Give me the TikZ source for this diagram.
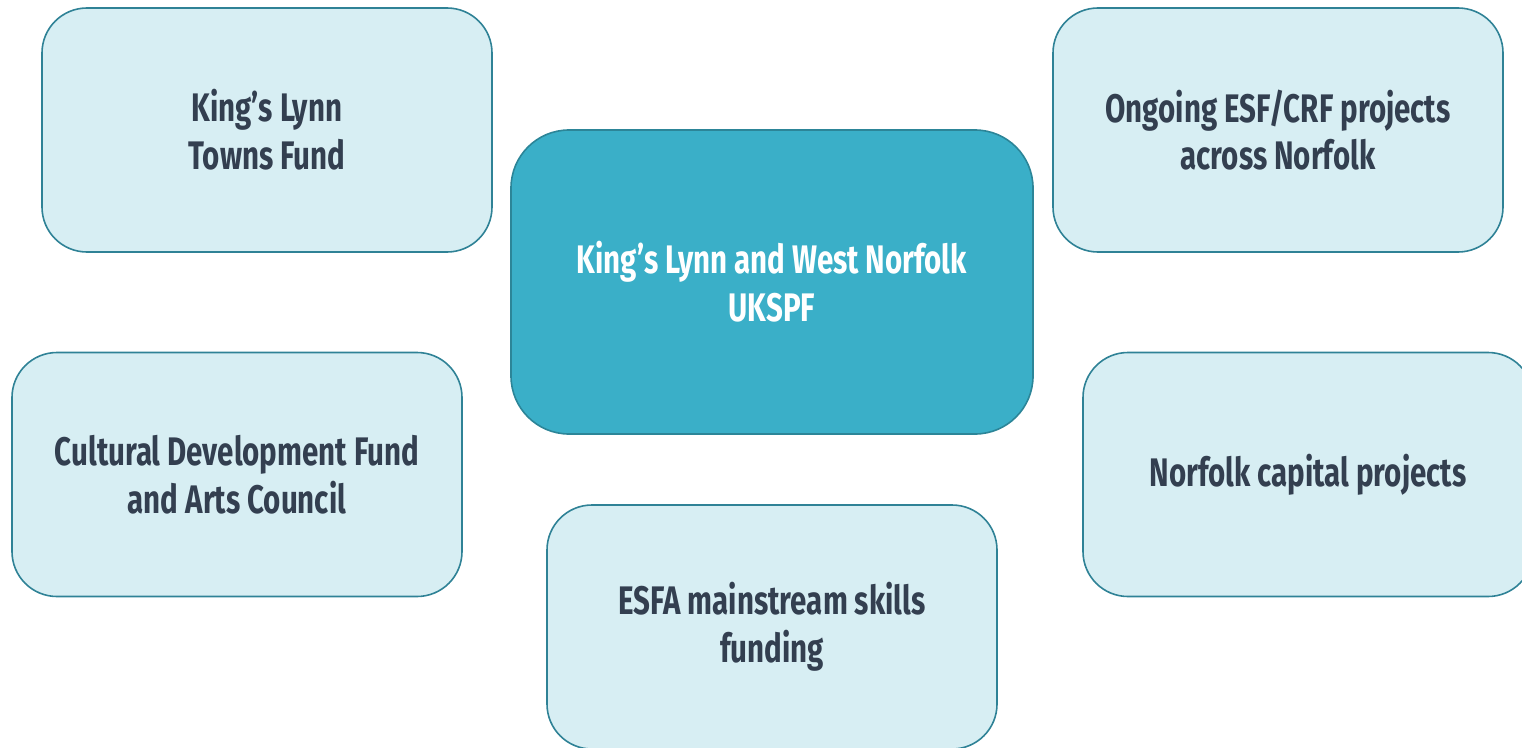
\documentclass[tikz,border=0pt]{standalone}
\usepackage{fontspec}
\newfontfamily\boxfont{Fira Sans}[FakeStretch=0.74]
\definecolor{boxfill}{HTML}{D7EEF3}
\definecolor{boxline}{HTML}{2F8296}
\definecolor{hubfill}{HTML}{3AAFC8}
\definecolor{hubline}{HTML}{2C8598}
\definecolor{boxtext}{HTML}{333F50}
\tikzset{
  fundbox/.style={draw=boxline, line width=1.6bp, fill=boxfill, rounded corners=45bp,
    minimum width=450bp, minimum height=244bp, inner sep=0pt, align=center,
    text=boxtext, font=\boxfont\bfseries\fontsize{40}{48}\selectfont},
  hubbox/.style={fundbox, draw=hubline, fill=hubfill, text=white, rounded corners=58bp,
    minimum width=522bp, minimum height=304bp}
}
\begin{document}
\begin{tikzpicture}[x=1bp,y=-1bp]
  \useasboundingbox (0,0) rectangle (1522,748);
  \node[fundbox] (towns) at (267,130) {King’s Lynn\\Towns Fund};
  \node[fundbox] (esfcrf) at (1278,130) {Ongoing ESF/CRF projects\\across Norfolk};
  \node[fundbox] (culture) at (237,474.5) {Cultural Development Fund\\and Arts Council};
  \node[fundbox] (capital) at (1308,474.5) {Norfolk capital projects};
  \node[fundbox] (esfa) at (772,627) {ESFA mainstream skills\\funding};
  \node[hubbox] (ukspf) at (772,282) {King’s Lynn and West Norfolk\\UKSPF};
\end{tikzpicture}
\end{document}
